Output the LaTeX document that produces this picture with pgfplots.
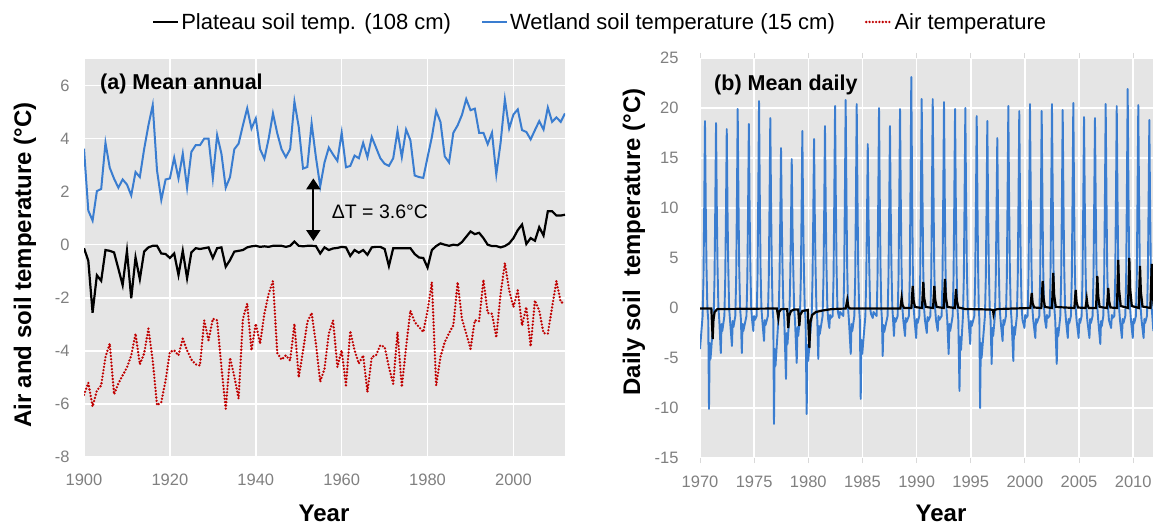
\documentclass[border=0pt]{standalone}
\usepackage{fontspec}
\setmainfont{Liberation Sans}
\usepackage{pgfplots}
\usepackage{pgfplotstable}
\pgfplotsset{compat=1.18}
\usetikzlibrary{arrows.meta}
\definecolor{bgc}{RGB}{229,229,229}
\definecolor{wblue}{RGB}{58,125,208}
\definecolor{ared}{RGB}{192,0,0}
\definecolor{tickc}{RGB}{128,128,128}

\pgfplotstableread{
year blue black air
1900 3.62 -0.13 -5.66
1901 1.29 -0.60 -5.2
1902 0.91 -2.56 -6.1
1903 2.02 -1.15 -5.5
1904 2.10 -1.36 -5.3
1905 3.84 -0.20 -4.23
1906 2.90 -0.23 -3.73
1907 2.49 -0.29 -5.64
1908 2.15 -0.90 -5.23
1909 2.46 -1.52 -4.92
1910 2.27 -0.23 -4.63
1911 1.86 -2.02 -4.17
1912 2.74 -0.48 -3.35
1913 2.55 -1.30 -4.51
1914 3.60 -0.26 -4.1
1915 4.50 -0.10 -3.16
1916 5.26 -0.04 -4.36
1917 2.80 -0.04 -6.05
1918 1.69 -0.33 -5.93
1919 2.46 -0.35 -5.11
1920 2.50 -0.50 -4.04
1921 3.28 -0.33 -3.98
1922 2.50 -1.14 -4.17
1923 3.43 -0.23 -3.54
1924 2.15 -1.26 -3.98
1925 3.50 -0.29 -4.33
1926 3.75 -0.13 -4.51
1927 3.75 -0.16 -4.55
1928 4.00 -0.13 -2.85
1929 4.00 -0.10 -3.6
1930 2.50 -0.50 -2.79
1931 4.13 -0.13 -2.85
1932 3.43 -0.10 -4.61
1933 2.15 -0.83 -6.18
1934 2.55 -0.58 -4.26
1935 3.60 -0.26 -4.96
1936 3.81 -0.23 -5.8
1937 4.50 -0.20 -2.79
1938 5.14 -0.10 -2.22
1939 4.38 -0.06 -3.98
1940 4.76 -0.04 -2.98
1941 3.60 -0.08 -3.73
1942 3.24 -0.06 -2.6
1943 4.00 -0.08 -1.85
1944 4.95 -0.04 -1.37
1945 4.20 -0.04 -4.08
1946 3.60 -0.04 -4.33
1947 3.30 -0.08 -4.17
1948 3.60 -0.04 -4.36
1949 5.39 0.12 -2.98
1950 4.44 -0.04 -5.0
1951 2.87 -0.06 -4.0
1952 2.93 -0.04 -2.91
1953 4.57 -0.04 -2.57
1954 3.30 -0.05 -3.73
1955 2.20 -0.33 -5.17
1956 3.10 -0.10 -4.67
1957 3.66 -0.20 -3.35
1958 3.40 -0.14 -2.85
1959 3.16 -0.12 -4.61
1960 4.22 -0.08 -3.98
1961 2.92 -0.10 -5.3
1962 2.97 -0.42 -3.25
1963 3.36 -0.20 -3.98
1964 3.26 -0.30 -4.48
1965 3.84 -0.20 -4.17
1966 3.30 -0.38 -5.55
1967 4.06 -0.10 -4.23
1968 3.66 -0.08 -4.17
1969 3.26 -0.08 -3.79
1970 3.05 -0.16 -3.85
1971 2.97 -0.80 -4.61
1972 3.26 -0.13 -5.24
1973 4.29 -0.13 -3.29
1974 3.30 -0.13 -5.36
1975 4.34 -0.13 -3.85
1976 3.94 -0.13 -2.48
1977 2.61 -0.35 -2.91
1978 2.55 -0.48 -3.1
1979 2.52 -0.50 -3.29
1980 3.30 -0.86 -2.48
1981 4.06 -0.20 -1.41
1982 5.04 -0.05 -5.3
1983 4.63 0.05 -4.23
1984 3.33 0.00 -3.67
1985 3.10 -0.04 -3.33
1986 4.22 0.00 -3.04
1987 4.50 -0.02 -1.41
1988 4.89 0.10 -2.79
1989 5.49 0.30 -3.35
1990 5.07 0.50 -3.92
1991 5.13 0.40 -2.85
1992 4.22 0.45 -2.88
1993 4.22 0.25 -1.32
1994 3.79 0.00 -2.57
1995 4.22 -0.05 -2.6
1996 2.65 -0.05 -3.5
1997 3.84 -0.10 -1.85
1998 5.48 -0.05 -0.69
1999 4.38 0.05 -1.72
2000 4.91 0.25 -2.35
2001 5.10 0.55 -1.72
2002 4.32 0.76 -3.04
2003 4.25 0.03 -2.35
2004 3.97 0.25 -3.83
2005 4.32 0.15 -2.1
2006 4.66 0.66 -2.48
2007 4.34 0.35 -3.33
2008 5.17 1.26 -3.35
2009 4.63 1.26 -2.35
2010 4.80 1.10 -1.37
2011 4.63 1.10 -2.16
2012 4.95 1.13 -2.22
}\annual

\pgfplotstableread{
t v
1970.00 -0.05
1971.05 -0.05
1971.17 -3.1
1971.24 -1.2
1971.35 -0.4
1971.60 -0.1
1977.10 -0.05
1977.23 -1.0
1977.30 -0.4
1977.50 -0.1
1978.05 -0.1
1978.15 -2.0
1978.23 -0.8
1978.40 -0.3
1978.70 -0.15
1979.07 -0.15
1979.17 -1.8
1979.25 -0.7
1979.45 -0.3
1979.95 -0.2
1980.10 -4.0
1980.18 -1.5
1980.35 -0.7
1980.70 -0.4
1981.30 -0.25
1982.20 -0.1
1983.45 -0.05
1983.60 0.8
1983.70 0.1
1983.85 -0.05
1988.50 -0.05
1988.62 1.0
1988.70 0.3
1988.85 0.0
1989.52 0.0
1989.64 2.2
1989.72 0.8
1989.85 0.1
1990.50 0.0
1990.62 2.6
1990.70 1.0
1990.85 0.1
1991.52 0.0
1991.64 2.2
1991.72 0.8
1991.85 0.1
1992.50 0.0
1992.62 2.9
1992.70 1.1
1992.85 0.1
1993.52 0.0
1993.64 1.9
1993.72 0.7
1993.85 0.05
1994.50 -0.1
1996.80 -0.15
1997.05 -0.2
1997.10 -0.6
1997.18 -0.2
1997.50 -0.1
2000.50 0.0
2000.63 1.5
2000.71 0.5
2000.85 0.05
2001.52 0.0
2001.64 2.7
2001.72 1.0
2001.85 0.1
2002.50 0.0
2002.62 3.5
2002.70 1.3
2002.85 0.1
2004.57 0.0
2004.69 1.8
2004.77 0.6
2004.90 0.05
2005.60 0.0
2005.71 0.9
2005.78 0.3
2005.90 0.0
2006.57 0.0
2006.69 3.2
2006.77 1.2
2006.90 0.1
2007.58 0.0
2007.70 2.0
2007.78 0.7
2007.90 0.05
2008.50 0.0
2008.62 4.8
2008.70 1.8
2008.85 0.2
2009.52 0.0
2009.64 5.0
2009.72 1.9
2009.87 0.2
2010.51 0.0
2010.63 4.2
2010.71 1.6
2010.86 0.15
2011.59 0.0
2011.71 4.4
2011.78 1.7
2011.90 0.2
}\dailyblack

\pgfplotsset{
  panel/.style={
    scale only axis,
    axis background/.style={fill=bgc},
    axis line style={draw=none},
    grid=major,
    major grid style={white, line width=1.5pt},
    major tick length=0pt,
    tick label style={font=\fontsize{16.5}{18}\selectfont, text=tickc},
    /pgf/number format/assume math mode=true,
    /pgf/number format/1000 sep={},
    label style={font=\bfseries\fontsize{24}{28}\selectfont},
    no markers,
  }
}

\begin{document}
\begin{tikzpicture}
\useasboundingbox (0pt,0pt) rectangle (1153pt,-524pt);

\begin{axis}[panel,
  at={(84pt,-457pt)}, anchor=south west,
  width=481pt, height=398pt,
  xmin=1900, xmax=2012, ymin=-8, ymax=7,
  xtick={1900,1920,...,2000}, ytick={-8,-6,...,6},
  xticklabel style={yshift=-13pt},
  yticklabel style={xshift=-11pt},
  xlabel={Year}, ylabel={Air and soil temperature (°C)},
  xlabel style={at={(axis description cs:0.499,-0.1608)}, anchor=base},
  ylabel style={at={(axis description cs:-0.1227,0.482)}, anchor=center},
  legend style={at={(axis description cs:1.073,1.093)}, anchor=center,
    draw=none, fill=none, legend columns=3,
    font=\fontsize{22}{26}\selectfont,
    /tikz/every even column/.append style={column sep=28pt},
    inner sep=0pt, nodes={inner sep=2pt}},
  legend image code/.code={\draw[#1] (0pt,0pt) -- (25pt,0pt);},
]
\addplot[black, line width=2.2pt] table[x=year, y=black] {\annual};
\addlegendentry{Plateau soil temp. (108 cm)}
\addplot[wblue, line width=2pt] table[x=year, y=blue] {\annual};
\addlegendentry{Wetland soil temperature (15 cm)}
\addplot[ared, line width=2.6pt, line cap=round, dash pattern=on 0pt off 3.3pt] table[x=year, y=air] {\annual};
\addlegendentry{Air temperature}
\node[anchor=west, font=\bfseries\fontsize{21.5}{25}\selectfont] at (axis description cs:0.0264,0.937) {(a) Mean annual};
\draw[line width=2pt, {Triangle[width=14pt,length=11pt]}-{Triangle[width=14pt,length=11pt]}] (axis cs:1953.4,2.5) -- (axis cs:1953.4,0.14);
\node[anchor=west, font=\fontsize{19.5}{23}\selectfont] at (axis cs:1956.9,1.23) {ΔT = 3.6°C};
\end{axis}

\begin{axis}[panel,
  at={(700pt,-458pt)}, anchor=south west,
  width=453pt, height=400pt,
  xmin=1970, xmax=2011.83, ymin=-15, ymax=25,
  xtick={1970,1975,...,2010}, ytick={-15,-10,...,25},
  major tick length=5pt, tick align=outside,
  xtick style={draw=black!15, line width=1pt},
  ytick style={draw=none},
  xticklabel style={yshift=-9pt},
  yticklabel style={xshift=-13pt},
  xlabel={Year}, ylabel={Daily soil~ temperature (°C)},
  xlabel style={at={(axis description cs:0.532,-0.1575)}, anchor=base},
  ylabel style={at={(axis description cs:-0.1457,0.54)}, anchor=center},
]
\addplot[wblue, line width=1.9pt, line join=round] coordinates {
(1970.00,-4.1) (1970.24,-0.8) (1970.32,3.0) (1970.39,10.3) (1970.46,18.7) (1970.53,10.3) (1970.60,4.0) (1970.68,0.0) (1970.76,-1.2) (1970.83,-10.1) (1970.90,-3.5) (1970.97,-5.1)
(1971.26,-0.8) (1971.34,3.0) (1971.41,10.2) (1971.48,18.5) (1971.55,10.2) (1971.62,4.0) (1971.70,0.0) (1971.78,-1.2) (1971.92,-4.5) (1971.99,-1.6) (1972.06,-2.3)
(1972.25,-0.8) (1972.33,3.0) (1972.40,9.8) (1972.47,17.9) (1972.54,9.8) (1972.61,4.0) (1972.69,0.0) (1972.77,-1.2) (1972.95,-3.8) (1973.02,-1.3) (1973.09,-1.9)
(1973.26,-0.8) (1973.34,3.0) (1973.41,10.9) (1973.48,19.9) (1973.55,10.9) (1973.62,4.0) (1973.70,0.0) (1973.78,-1.2) (1973.86,-4.5) (1973.93,-1.6) (1974.00,-2.3)
(1974.29,-0.8) (1974.37,3.0) (1974.44,10.1) (1974.51,18.4) (1974.58,10.1) (1974.65,4.0) (1974.73,0.0) (1974.81,-1.2) (1974.92,-2.3) (1974.99,-0.8) (1975.06,-1.2)
(1975.23,-0.8) (1975.31,3.0) (1975.38,11.4) (1975.45,20.7) (1975.52,11.4) (1975.59,4.0) (1975.67,0.0) (1975.75,-1.2) (1975.91,-3.3) (1975.98,-1.2) (1976.05,-1.7)
(1976.27,-0.8) (1976.35,3.0) (1976.42,10.5) (1976.49,19.0) (1976.56,10.5) (1976.63,4.0) (1976.70,0.0) (1976.77,-1.2) (1976.83,-11.6) (1976.90,-4.1) (1976.97,-5.8)
(1977.26,-0.8) (1977.34,3.0) (1977.41,8.8) (1977.48,16.0) (1977.55,8.8) (1977.62,4.0) (1977.70,0.0) (1977.78,-1.2) (1977.94,-7.1) (1978.01,-2.5) (1978.08,-3.6)
(1978.25,-0.8) (1978.33,3.0) (1978.40,8.2) (1978.47,14.9) (1978.54,8.2) (1978.61,4.0) (1978.69,0.0) (1978.77,-1.2) (1978.93,-5.5) (1979.00,-1.9) (1979.07,-2.8)
(1979.23,-0.8) (1979.31,3.0) (1979.38,9.7) (1979.45,17.7) (1979.52,9.7) (1979.59,4.0) (1979.67,0.0) (1979.75,-1.2) (1979.85,-10.6) (1979.92,-3.7) (1979.99,-5.3)
(1980.31,-0.8) (1980.39,3.0) (1980.46,9.3) (1980.53,16.9) (1980.60,9.3) (1980.67,4.0) (1980.75,0.0) (1980.83,-1.2) (1980.92,-5.1) (1980.99,-1.8) (1981.06,-2.6)
(1981.32,-0.8) (1981.40,3.0) (1981.47,10.0) (1981.54,18.2) (1981.61,10.0) (1981.68,4.0) (1981.76,0.0) (1981.84,-1.2) (1981.94,-2.0) (1982.01,-0.7) (1982.08,-1.0)
(1982.25,-0.8) (1982.33,3.0) (1982.40,11.1) (1982.47,20.2) (1982.54,11.1) (1982.61,4.0) (1982.69,0.0) (1982.77,-0.6) (1982.86,-1.0) (1982.93,-0.4) (1983.00,-0.5)
(1983.23,-0.8) (1983.31,3.0) (1983.38,11.4) (1983.45,20.8) (1983.52,11.4) (1983.59,4.0) (1983.67,0.0) (1983.75,-1.2) (1983.92,-4.6) (1983.99,-1.6) (1984.06,-2.3)
(1984.25,-0.8) (1984.33,3.0) (1984.40,11.2) (1984.47,20.4) (1984.54,11.2) (1984.61,4.0) (1984.69,0.0) (1984.76,-1.2) (1984.84,-9.1) (1984.91,-3.2) (1984.98,-4.6)
(1985.27,-0.8) (1985.35,3.0) (1985.42,9.0) (1985.49,16.4) (1985.56,9.0) (1985.63,4.0) (1985.71,0.0) (1985.79,-0.6) (1985.95,-1.0) (1986.02,-0.4) (1986.09,-0.5)
(1986.31,-0.8) (1986.39,3.0) (1986.46,11.0) (1986.53,20.0) (1986.60,11.0) (1986.67,4.0) (1986.74,0.0) (1986.80,-1.2) (1986.87,-4.8) (1986.94,-1.7) (1987.01,-2.4)
(1987.32,-0.8) (1987.40,3.0) (1987.47,10.0) (1987.54,18.2) (1987.61,10.0) (1987.68,4.0) (1987.76,0.0) (1987.83,-1.2) (1987.91,-2.8) (1987.98,-1.0) (1988.05,-1.4)
(1988.25,-0.8) (1988.33,3.0) (1988.40,10.9) (1988.47,19.9) (1988.54,10.9) (1988.61,4.0) (1988.69,0.0) (1988.77,-1.2) (1988.93,-2.8) (1989.00,-1.0) (1989.07,-1.4)
(1989.29,-0.8) (1989.37,3.0) (1989.44,12.7) (1989.51,23.1) (1989.58,12.7) (1989.65,4.0) (1989.73,0.0) (1989.81,-1.2) (1989.96,-3.0) (1990.03,-1.1) (1990.10,-1.5)
(1990.25,-0.8) (1990.33,3.0) (1990.40,11.5) (1990.47,20.9) (1990.54,11.5) (1990.61,4.0) (1990.69,0.0) (1990.77,-1.2) (1990.94,-2.5) (1991.01,-0.9) (1991.08,-1.3)
(1991.27,-0.8) (1991.35,3.0) (1991.42,11.5) (1991.49,20.9) (1991.56,11.5) (1991.63,4.0) (1991.71,0.0) (1991.79,-1.2) (1991.95,-2.3) (1992.02,-0.8) (1992.09,-1.2)
(1992.31,-0.8) (1992.39,3.0) (1992.46,11.3) (1992.53,20.6) (1992.60,11.3) (1992.67,4.0) (1992.75,0.0) (1992.83,-1.2) (1992.96,-4.6) (1993.03,-1.6) (1993.10,-2.3)
(1993.33,-0.8) (1993.41,3.0) (1993.48,10.9) (1993.55,19.9) (1993.62,10.9) (1993.69,4.0) (1993.77,0.0) (1993.85,-1.2) (1993.96,-8.3) (1994.03,-2.9) (1994.10,-4.2)
(1994.28,-0.8) (1994.36,3.0) (1994.43,11.0) (1994.50,20.0) (1994.57,11.0) (1994.64,4.0) (1994.72,0.0) (1994.80,-1.2) (1994.95,-3.6) (1995.02,-1.3) (1995.09,-1.8)
(1995.33,-0.8) (1995.41,3.0) (1995.48,10.6) (1995.55,19.2) (1995.62,10.6) (1995.68,4.0) (1995.74,0.0) (1995.80,-1.2) (1995.86,-10.0) (1995.93,-3.5) (1996.00,-5.0)
(1996.31,-0.8) (1996.39,3.0) (1996.46,10.3) (1996.53,18.7) (1996.60,10.3) (1996.67,4.0) (1996.75,0.0) (1996.83,-1.2) (1996.93,-5.6) (1997.00,-2.0) (1997.07,-2.8)
(1997.23,-0.8) (1997.31,3.0) (1997.38,9.4) (1997.45,17.0) (1997.52,9.4) (1997.59,4.0) (1997.67,0.0) (1997.75,-1.2) (1997.94,-3.3) (1998.01,-1.2) (1998.08,-1.7)
(1998.25,-0.8) (1998.33,3.0) (1998.40,11.1) (1998.47,20.2) (1998.54,11.1) (1998.61,4.0) (1998.69,0.0) (1998.77,-1.2) (1998.93,-5.3) (1999.00,-1.9) (1999.07,-2.7)
(1999.26,-0.8) (1999.34,3.0) (1999.41,10.8) (1999.48,19.7) (1999.55,10.8) (1999.62,4.0) (1999.70,0.0) (1999.78,-1.2) (1999.96,-2.0) (2000.03,-0.7) (2000.10,-1.0)
(2000.25,-0.8) (2000.33,3.0) (2000.40,11.2) (2000.47,20.4) (2000.54,11.2) (2000.61,4.0) (2000.69,0.0) (2000.77,-1.2) (2000.96,-3.0) (2001.03,-1.1) (2001.10,-1.5)
(2001.33,-0.8) (2001.41,3.0) (2001.48,10.8) (2001.55,19.7) (2001.62,10.8) (2001.69,4.0) (2001.77,0.0) (2001.85,-1.2) (2001.97,-2.0) (2002.04,-0.7) (2002.11,-1.0)
(2002.28,-0.8) (2002.36,3.0) (2002.43,11.2) (2002.50,20.4) (2002.57,11.2) (2002.64,4.0) (2002.72,0.0) (2002.80,-1.2) (2002.94,-5.6) (2003.01,-2.0) (2003.08,-2.8)
(2003.27,-0.8) (2003.35,3.0) (2003.42,10.9) (2003.49,19.8) (2003.56,10.9) (2003.63,4.0) (2003.71,0.0) (2003.79,-1.2) (2003.96,-3.0) (2004.03,-1.1) (2004.10,-1.5)
(2004.25,-0.8) (2004.33,3.0) (2004.40,11.3) (2004.47,20.5) (2004.54,11.3) (2004.61,4.0) (2004.69,0.0) (2004.77,-1.2) (2004.96,-3.0) (2005.03,-1.1) (2005.10,-1.5)
(2005.24,-0.8) (2005.32,3.0) (2005.39,10.5) (2005.46,19.1) (2005.53,10.5) (2005.60,4.0) (2005.68,0.0) (2005.76,-1.2) (2005.96,-3.0) (2006.03,-1.1) (2006.10,-1.5)
(2006.25,-0.8) (2006.33,3.0) (2006.40,10.5) (2006.47,19.0) (2006.54,10.5) (2006.61,4.0) (2006.69,0.0) (2006.77,-1.2) (2006.96,-3.6) (2007.03,-1.3) (2007.10,-1.8)
(2007.24,-0.8) (2007.32,3.0) (2007.39,11.2) (2007.46,20.4) (2007.53,11.2) (2007.60,4.0) (2007.68,0.0) (2007.76,-1.2) (2007.96,-2.0) (2008.03,-0.7) (2008.10,-1.0)
(2008.26,-0.8) (2008.34,3.0) (2008.41,11.1) (2008.48,20.2) (2008.55,11.1) (2008.62,4.0) (2008.70,0.0) (2008.78,-1.2) (2008.96,-3.0) (2009.03,-1.1) (2009.10,-1.5)
(2009.27,-0.8) (2009.35,3.0) (2009.42,12.0) (2009.49,21.9) (2009.56,12.0) (2009.63,4.0) (2009.71,0.0) (2009.79,-1.2) (2009.96,-3.0) (2010.03,-1.1) (2010.10,-1.5)
(2010.25,-0.8) (2010.33,3.0) (2010.40,11.2) (2010.47,20.3) (2010.54,11.2) (2010.61,4.0) (2010.69,0.0) (2010.77,-1.2) (2010.96,-3.0) (2011.03,-1.1) (2011.10,-1.5)
(2011.27,-0.8) (2011.35,3.0) (2011.42,10.3) (2011.49,18.8) (2011.56,10.3) (2011.63,4.0) (2011.71,0.0) (2011.79,-1.2) (2011.86,-2.3)
};
\addplot[black, line width=2.2pt] table[x=t, y=v] {\dailyblack};
\node[anchor=west, font=\bfseries\fontsize{21.5}{25}\selectfont] at (axis description cs:0.0236,0.9325) {(b) Mean daily};
\end{axis}
\end{tikzpicture}
\end{document}
